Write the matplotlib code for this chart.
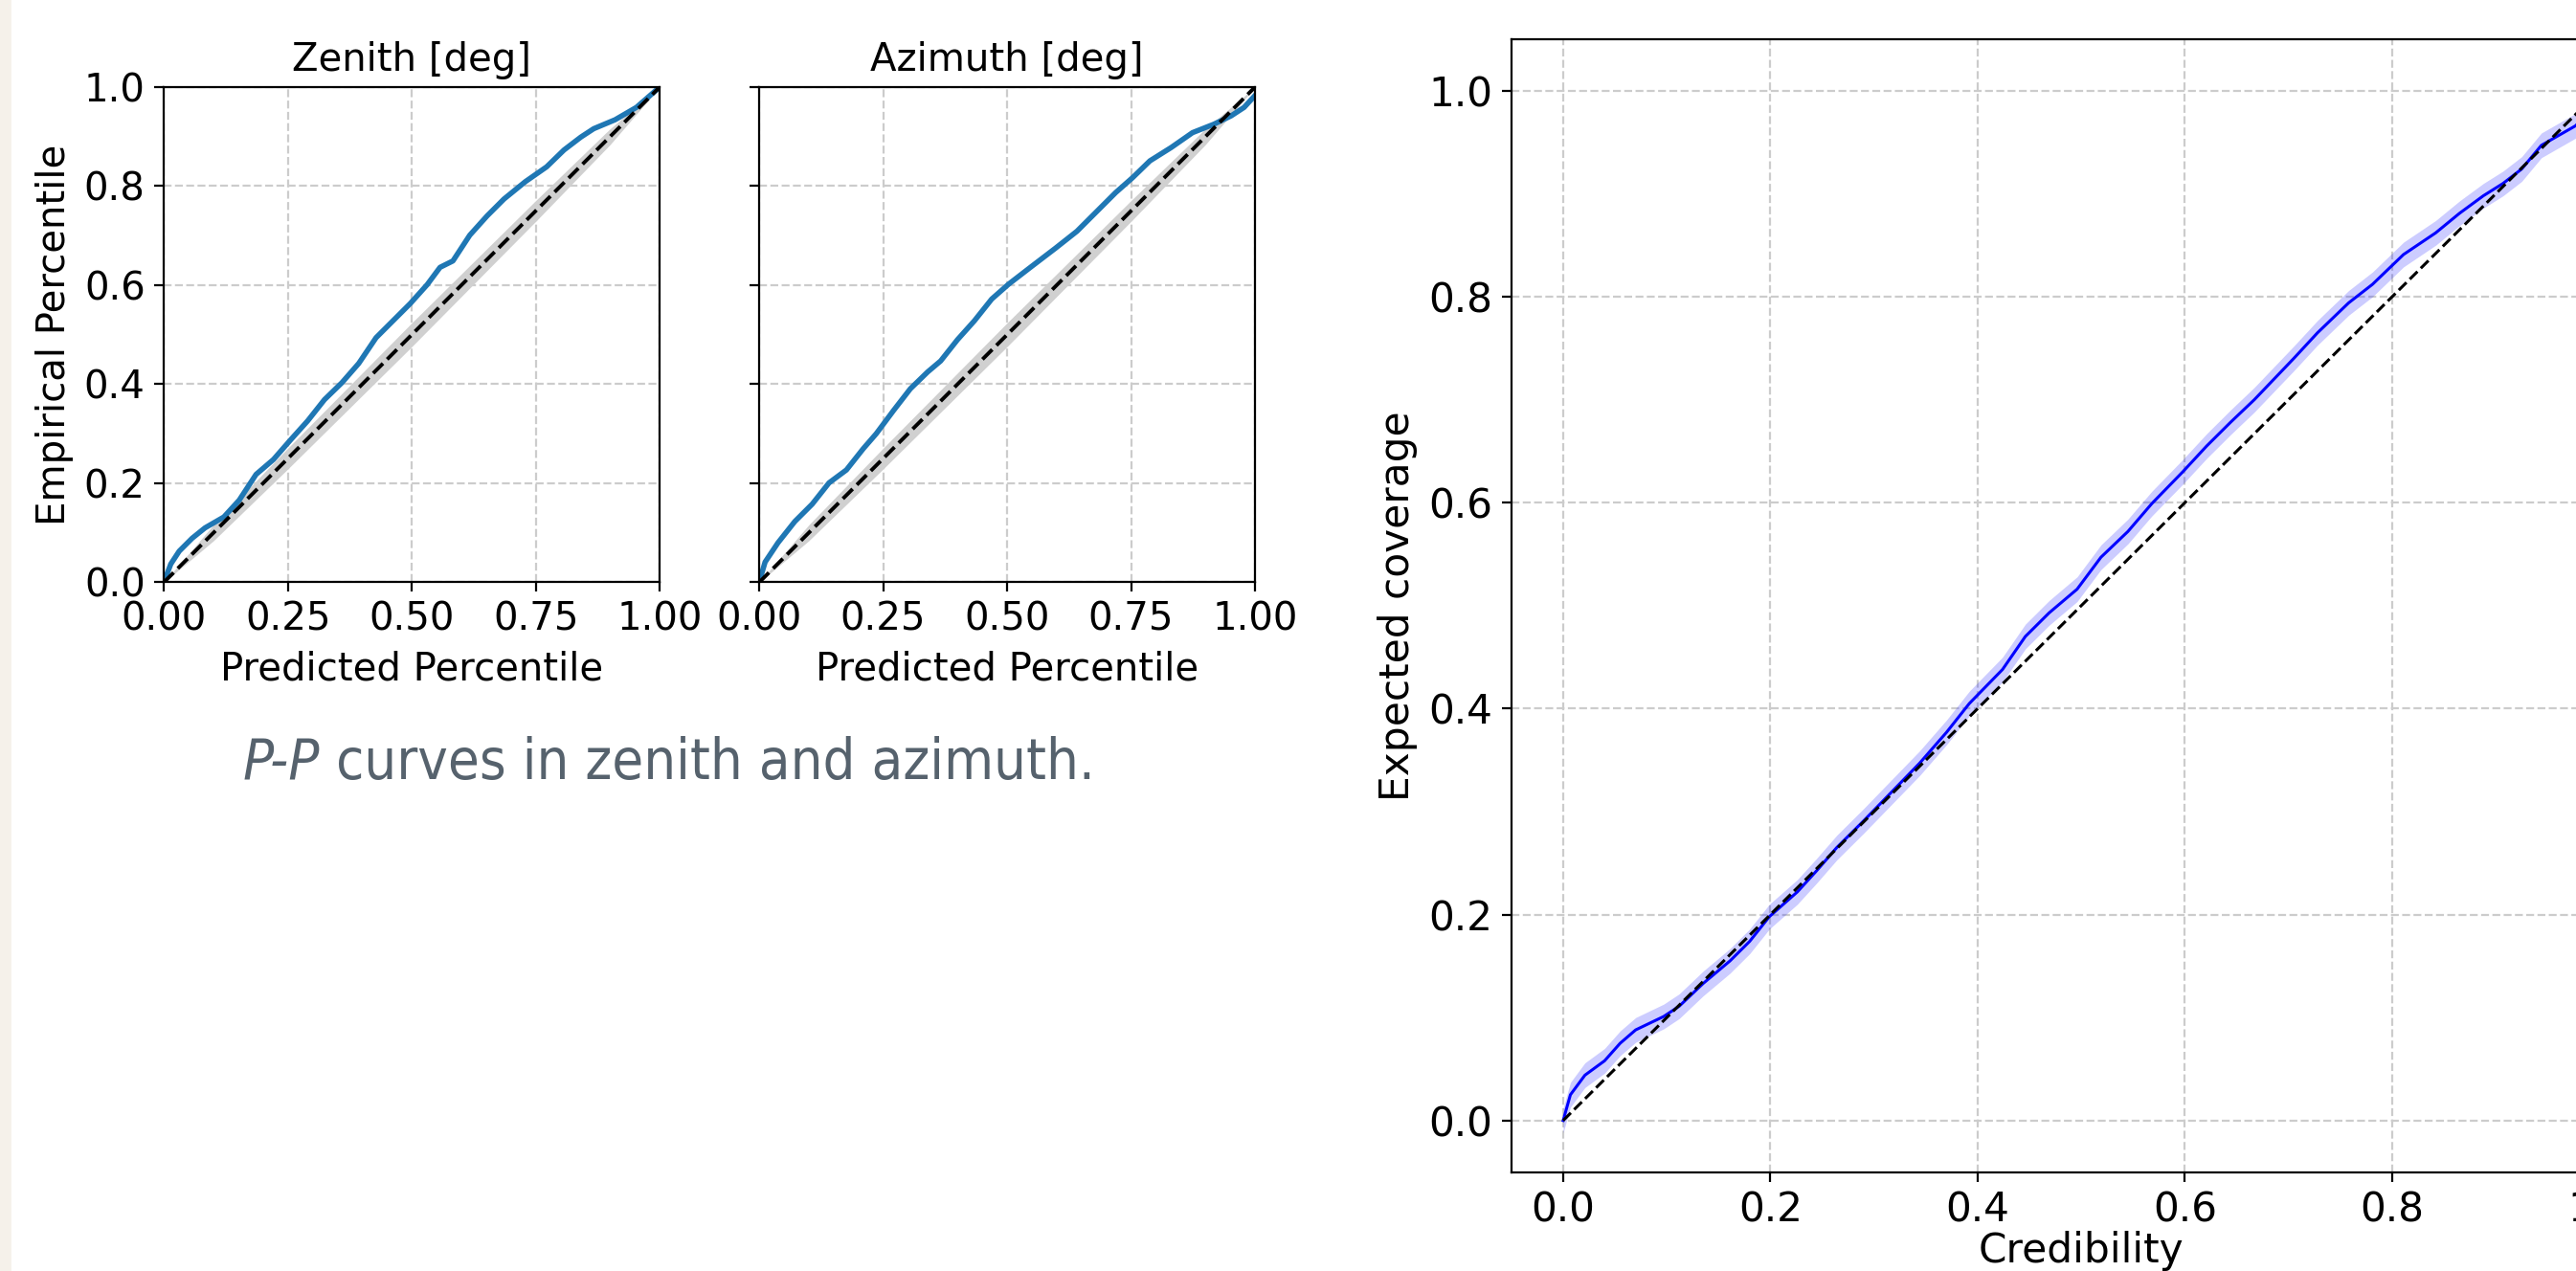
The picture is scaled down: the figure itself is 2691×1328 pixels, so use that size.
import numpy as np
import matplotlib
matplotlib.use("Agg")
import matplotlib.pyplot as plt
from matplotlib.patches import Rectangle

# P-P curves
zen_pred = [0.0, 0.014, 0.031, 0.057, 0.083, 0.121, 0.152, 0.186, 0.221, 0.255,
            0.290, 0.324, 0.359, 0.393, 0.428, 0.462, 0.497, 0.531, 0.557, 0.583,
            0.617, 0.652, 0.686, 0.729, 0.772, 0.807, 0.841, 0.867, 0.910, 0.953, 1.0]
zen_emp = [0.0, 0.037, 0.063, 0.089, 0.110, 0.132, 0.166, 0.218, 0.248, 0.287,
           0.326, 0.369, 0.403, 0.442, 0.494, 0.528, 0.563, 0.601, 0.636, 0.649,
           0.701, 0.740, 0.774, 0.809, 0.839, 0.873, 0.899, 0.916, 0.934, 0.959, 1.0]

azi_pred = [0.0, 0.012, 0.038, 0.072, 0.107, 0.141, 0.176, 0.210, 0.236, 0.271,
            0.305, 0.340, 0.366, 0.400, 0.434, 0.469, 0.503, 0.547, 0.598, 0.641,
            0.676, 0.719, 0.753, 0.788, 0.831, 0.874, 0.917, 0.952, 0.978, 1.0]
azi_emp = [0.0, 0.041, 0.080, 0.123, 0.158, 0.201, 0.227, 0.270, 0.300, 0.347,
           0.391, 0.425, 0.447, 0.490, 0.528, 0.572, 0.602, 0.636, 0.675, 0.709,
           0.744, 0.787, 0.817, 0.851, 0.878, 0.908, 0.925, 0.942, 0.959, 0.983]

# grey band around the diagonal
band_p = [0.0, 0.1, 0.25, 0.5, 0.75, 0.9, 1.0]
band_hw = [0.0, 0.016, 0.021, 0.024, 0.021, 0.016, 0.0]

# coverage curve
cov_cred = [0.0, 0.007, 0.021, 0.040, 0.055, 0.070, 0.097, 0.112, 0.135, 0.161,
            0.180, 0.199, 0.226, 0.245, 0.264, 0.290, 0.317, 0.344, 0.370, 0.392,
            0.424, 0.446, 0.469, 0.496, 0.519, 0.545, 0.568, 0.598, 0.621, 0.644,
            0.667, 0.705, 0.728, 0.758, 0.781, 0.811, 0.842, 0.865, 0.888, 0.907,
            0.925, 0.944, 0.977, 1.0]
cov_emp = [0.0, 0.025, 0.044, 0.058, 0.075, 0.088, 0.101, 0.111, 0.133, 0.155,
           0.174, 0.198, 0.222, 0.243, 0.265, 0.291, 0.319, 0.347, 0.377, 0.405,
           0.438, 0.470, 0.493, 0.516, 0.547, 0.572, 0.599, 0.630, 0.655, 0.678,
           0.700, 0.740, 0.765, 0.794, 0.812, 0.841, 0.862, 0.881, 0.898, 0.910,
           0.924, 0.947, 0.966, 0.99]
cov_hw = 0.012

fs_left = 14.5
fs_right = 15.2

fig = plt.figure(figsize=(13.455, 6.64), dpi=200)
fig.patches.append(Rectangle((0, 0), 10 / 2691, 1, transform=fig.transFigure,
                             color='#f5f1ea', zorder=0))

grid_kw = dict(linestyle='--', color='#cccccc', linewidth=0.8)

ax1 = fig.add_axes([0.0636, 0.5418, 0.1925, 0.3897])
ax2 = fig.add_axes([0.2947, 0.5418, 0.1925, 0.3897], sharey=ax1)

bp = np.array(band_p)
bh = np.array(band_hw)
for ax, xp, yp, title in [(ax1, zen_pred, zen_emp, "Zenith [deg]"),
                          (ax2, azi_pred, azi_emp, "Azimuth [deg]")]:
    ax.fill_between(bp, bp - bh, bp + bh, color='#d0d0d0', lw=0)
    ax.plot(xp, yp, color='tab:blue', lw=2.0)
    ax.plot([0, 1], [0, 1], 'k--', lw=1.4)
    ax.set_xlim(0, 1)
    ax.set_ylim(0, 1)
    ax.set_xticks([0, 0.25, 0.5, 0.75, 1.0])
    ax.set_title(title, fontsize=fs_left)
    ax.set_xlabel("Predicted Percentile", fontsize=fs_left)
    ax.tick_params(labelsize=fs_left)
    ax.grid(True, **grid_kw)
    ax.set_axisbelow(True)

ax1.set_ylabel("Empirical Percentile", fontsize=fs_left)
plt.setp(ax2.get_yticklabels(), visible=False)

# caption: italic "P-P" followed by upright text
cap_kw = dict(fontsize=21.4, family='DejaVu Sans', stretch='condensed', color='#56626d')
t1 = fig.text(254 / 2691, 1 - 814 / 1328, 'P-P', style='italic',
              ha='left', va='baseline', **cap_kw)
t2 = plt.annotate(' curves in zenith and azimuth.', xy=(1, 0), xycoords=t1,
                  ha='left', va='bottom', annotation_clip=False, **cap_kw)

ax3 = fig.add_axes([0.5867, 0.0779, 0.4425, 0.8912])
cc = np.array(cov_cred)
ce = np.array(cov_emp)
ax3.fill_between(cc, ce - cov_hw, ce + cov_hw, color='blue', alpha=0.2, lw=0)
ax3.plot(cc, ce, color='blue', lw=1.1)
ax3.plot([0, 1], [0, 1], 'k--', lw=1.1)
ax3.set_xlim(-0.05, 1.05)
ax3.set_ylim(-0.05, 1.05)
ax3.set_xlabel("Credibility", fontsize=fs_right, labelpad=0)
ax3.set_ylabel("Expected coverage", fontsize=fs_right)
ax3.tick_params(labelsize=fs_right)
ax3.grid(True, **grid_kw)
ax3.set_axisbelow(True)

fig.savefig("out.png", dpi=200)
